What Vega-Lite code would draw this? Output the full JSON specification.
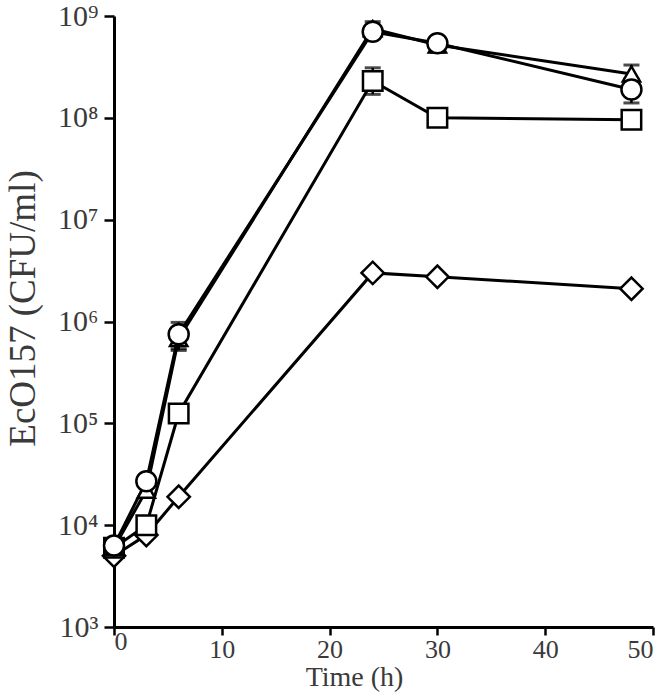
{
  "$schema": "https://vega.github.io/schema/vega-lite/v6.json",
  "width": 539,
  "height": 611,
  "autosize": {"type": "none"},
  "padding": {"left": 114, "top": 16, "right": 19, "bottom": 71},
  "background": "white",
  "config": {
    "view": {"stroke": null},
    "axis": {
      "grid": false,
      "domainColor": "black",
      "domainWidth": 3,
      "tickColor": "black",
      "tickWidth": 2.5,
      "labelFont": "Times New Roman, Liberation Serif, Times, serif",
      "titleFont": "Times New Roman, Liberation Serif, Times, serif",
      "labelColor": "#3a3a3a",
      "titleColor": "#3a3a3a",
      "titleFontWeight": "normal"
    },
    "point": {"filled": true, "fill": "white", "stroke": "black", "strokeWidth": 2.5, "opacity": 1}
  },
  "data": {
    "values": [
      {"series": "diamond", "t": 0, "v": 5000},
      {"series": "diamond", "t": 3, "v": 8000},
      {"series": "diamond", "t": 6, "v": 19000},
      {"series": "diamond", "t": 24, "v": 3000000},
      {"series": "diamond", "t": 30, "v": 2750000},
      {"series": "diamond", "t": 48, "v": 2100000},
      {"series": "square", "t": 0, "v": 6000},
      {"series": "square", "t": 3, "v": 10000},
      {"series": "square", "t": 6, "v": 125000},
      {"series": "square", "t": 24, "v": 230000000, "lo": 170000000, "hi": 310000000},
      {"series": "square", "t": 30, "v": 100000000},
      {"series": "square", "t": 48, "v": 96000000},
      {"series": "triangle", "t": 0, "v": 6000},
      {"series": "triangle", "t": 3, "v": 22000},
      {"series": "triangle", "t": 6, "v": 680000, "lo": 540000, "hi": 850000},
      {"series": "triangle", "t": 24, "v": 750000000},
      {"series": "triangle", "t": 30, "v": 520000000, "lo": 440000000, "hi": 600000000},
      {"series": "triangle", "t": 48, "v": 270000000, "lo": 220000000, "hi": 330000000},
      {"series": "circle", "t": 0, "v": 6300},
      {"series": "circle", "t": 3, "v": 27000},
      {"series": "circle", "t": 6, "v": 750000, "lo": 520000, "hi": 980000},
      {"series": "circle", "t": 24, "v": 700000000, "lo": 600000000, "hi": 880000000},
      {"series": "circle", "t": 30, "v": 540000000},
      {"series": "circle", "t": 48, "v": 190000000, "lo": 140000000, "hi": 240000000}
    ]
  },
  "layer": [
    {
      "mark": {"type": "line", "color": "black"},
      "encoding": {
        "x": {
          "field": "t", "type": "quantitative",
          "scale": {"domain": [0, 50], "nice": false, "zero": false},
          "axis": {
            "values": [0, 10, 20, 30, 40, 50],
            "tickSize": 8,
            "labelFontSize": 26,
            "labelLineHeight": 42,
            "labelPadding": -7,
            "labelBaseline": {"condition": {"test": "datum.value == 0", "value": "top"}, "value": "line-top"},
            "title": "Time (h)",
            "titleFontSize": 28,
            "titleX": 240,
            "titleY": 58,
            "titleAlign": "center",
            "titleBaseline": "alphabetic",
            "titleAnchor": null
          }
        },
        "y": {
          "field": "v", "type": "quantitative",
          "scale": {"type": "log", "domain": [1000, 1000000000], "nice": false},
          "axis": {
            "values": [1000, 10000, 100000, 1000000, 10000000, 100000000, 1000000000],
            "labelExpr": "'10' + ['³','⁴','⁵','⁶','⁷','⁸','⁹'][round(log(datum.value)/LN10) - 3]",
            "tickSize": 10,
            "labelFontSize": 30,
            "labelPadding": 6,
            "title": "EcO157 (CFU/ml)",
            "titleFontSize": 37,
            "titleX": -91,
            "titleY": 292,
            "titleAngle": -90,
            "titleAlign": "center",
            "titleBaseline": "middle"
          }
        },
        "detail": {"field": "series"},
        "strokeWidth": {
          "field": "series", "type": "nominal",
          "scale": {"domain": ["circle", "triangle", "square", "diamond"], "range": [3, 3, 2.3, 2.3]},
          "legend": null
        }
      }
    },
    {
      "transform": [{"filter": "isValid(datum.lo)"}],
      "mark": {"type": "rule", "color": "black", "strokeWidth": 2.5},
      "encoding": {
        "x": {"field": "t", "type": "quantitative"},
        "y": {"field": "lo", "type": "quantitative"},
        "y2": {"field": "hi"}
      }
    },
    {
      "transform": [{"filter": "isValid(datum.lo)"}, {"fold": ["lo", "hi"], "as": ["end", "ev"]}],
      "mark": {"type": "tick", "orient": "horizontal", "color": "black", "thickness": 3, "size": 16},
      "encoding": {
        "x": {"field": "t", "type": "quantitative"},
        "y": {"field": "ev", "type": "quantitative"}
      }
    },
    {
      "transform": [{"filter": "datum.series == 'diamond'"}],
      "mark": {"type": "point", "shape": "diamond", "size": 500},
      "encoding": {
        "x": {"field": "t", "type": "quantitative"},
        "y": {"field": "v", "type": "quantitative"}
      }
    },
    {
      "transform": [{"filter": "datum.series == 'square'"}],
      "mark": {"type": "point", "shape": "square", "size": 380},
      "encoding": {
        "x": {"field": "t", "type": "quantitative"},
        "y": {"field": "v", "type": "quantitative"}
      }
    },
    {
      "transform": [{"filter": "datum.series == 'triangle'"}],
      "mark": {"type": "point", "shape": "triangle-up", "size": 300},
      "encoding": {
        "x": {"field": "t", "type": "quantitative"},
        "y": {"field": "v", "type": "quantitative"}
      }
    },
    {
      "transform": [{"filter": "datum.series == 'circle'"}],
      "mark": {"type": "point", "shape": "circle", "size": 400},
      "encoding": {
        "x": {"field": "t", "type": "quantitative"},
        "y": {"field": "v", "type": "quantitative"}
      }
    }
  ]
}
